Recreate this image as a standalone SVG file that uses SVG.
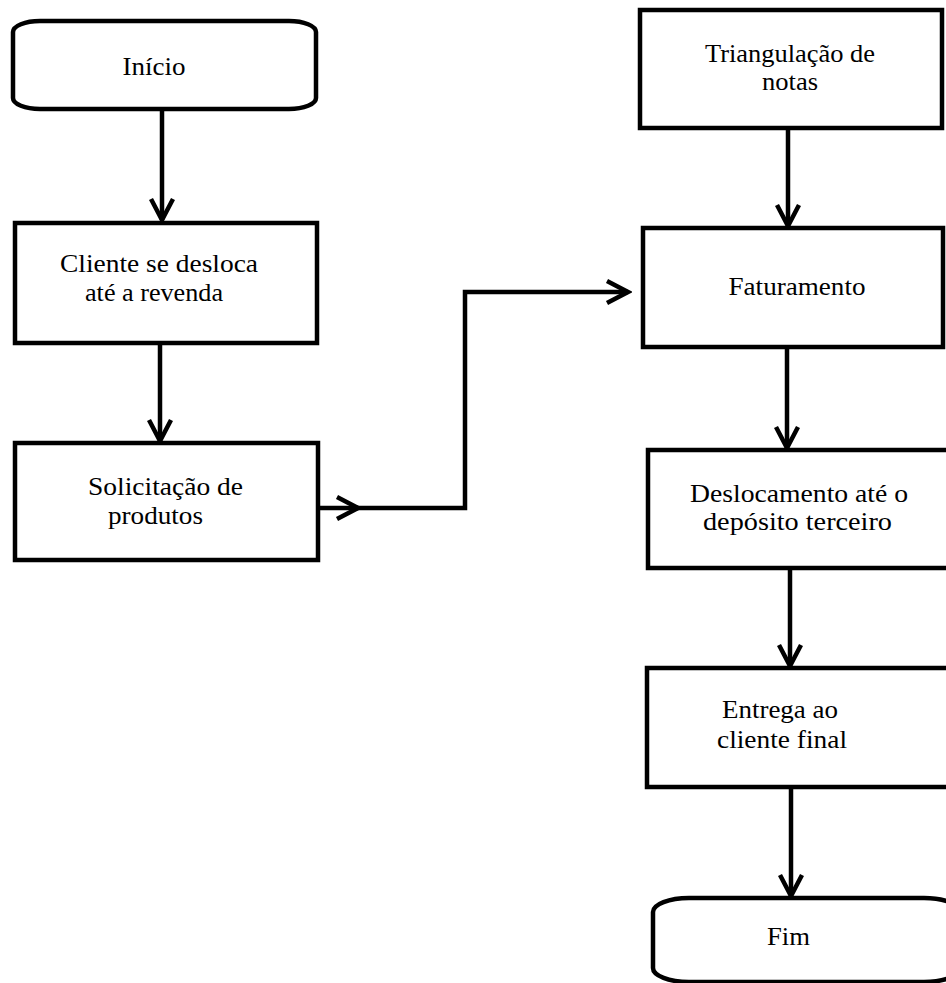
<svg xmlns="http://www.w3.org/2000/svg" width="946" height="983" viewBox="0 0 946 983">
<style>
.box{fill:#fff;stroke:#000;stroke-width:4.5}
.lbl{font-family:"Liberation Serif","Times New Roman",serif;font-size:26px;fill:#000;text-anchor:middle}
.con{fill:none;stroke:#000;stroke-width:4.5}
</style>
<defs>
<marker id="arr" markerUnits="userSpaceOnUse" viewBox="-26 -15 30 30" markerWidth="30" markerHeight="30" refX="0" refY="0" orient="auto">
<path d="M-21,-11 L0,0 L-21,11" fill="none" stroke="#000" stroke-width="4.5"/>
</marker>
</defs>
<rect width="946" height="983" fill="#fff"/>
<g id="connectors">
<path class="con" d="M162,110 V220" marker-end="url(#arr)"/>
<path class="con" d="M160,344 V441" marker-end="url(#arr)"/>
<path class="con" d="M318,508 H358" marker-end="url(#arr)"/>
<path class="con" d="M356,508 H465 V292 H628" marker-end="url(#arr)"/>
<path class="con" d="M788,128 V226" marker-end="url(#arr)"/>
<path class="con" d="M787,347 V448" marker-end="url(#arr)"/>
<path class="con" d="M790,568 V666" marker-end="url(#arr)"/>
<path class="con" d="M791,787 V896" marker-end="url(#arr)"/>
</g>
<g id="inicio">
<path class="box" d="M40,21 H289 A27,11 0 0 1 316,32 V98 A27,11 0 0 1 289,109 H40 A27,11 0 0 1 13,98 V32 A27,11 0 0 1 40,21 Z"/>
<text class="lbl" x="154" y="75" textLength="63" lengthAdjust="spacingAndGlyphs">Início</text>
</g>
<g id="cliente">
<rect class="box" x="15" y="223" width="302" height="120"/>
<text class="lbl" x="159" y="272" textLength="198" lengthAdjust="spacingAndGlyphs">Cliente se desloca</text>
<text class="lbl" x="154" y="301" textLength="138" lengthAdjust="spacingAndGlyphs">até a revenda</text>
</g>
<g id="solicitacao">
<rect class="box" x="15" y="443" width="303" height="117"/>
<text class="lbl" x="165.5" y="495" textLength="155" lengthAdjust="spacingAndGlyphs">Solicitação de</text>
<text class="lbl" x="155.5" y="524" textLength="95" lengthAdjust="spacingAndGlyphs">produtos</text>
</g>
<g id="triangulacao">
<rect class="box" x="640" y="10" width="302" height="118"/>
<text class="lbl" x="790" y="62" textLength="170" lengthAdjust="spacingAndGlyphs">Triangulação de</text>
<text class="lbl" x="790" y="90" textLength="56" lengthAdjust="spacingAndGlyphs">notas</text>
</g>
<g id="faturamento">
<rect class="box" x="643" y="228" width="300" height="119"/>
<text class="lbl" x="797" y="295" textLength="137" lengthAdjust="spacingAndGlyphs">Faturamento</text>
</g>
<g id="deslocamento">
<rect class="box" x="648" y="450" width="310" height="118"/>
<text class="lbl" x="799" y="502" textLength="218" lengthAdjust="spacingAndGlyphs">Deslocamento até o</text>
<text class="lbl" x="797.5" y="530" textLength="189" lengthAdjust="spacingAndGlyphs">depósito terceiro</text>
</g>
<g id="entrega">
<rect class="box" x="647" y="668" width="310" height="119"/>
<text class="lbl" x="780" y="718" textLength="116" lengthAdjust="spacingAndGlyphs">Entrega ao</text>
<text class="lbl" x="782" y="748" textLength="130" lengthAdjust="spacingAndGlyphs">cliente final</text>
</g>
<g id="fim">
<path class="box" d="M689,898 H924 A36,14 0 0 1 960,912 V968 A36,14 0 0 1 924,982 H689 A36,14 0 0 1 653,968 V912 A36,14 0 0 1 689,898 Z"/>
<text class="lbl" x="788.5" y="945" textLength="43" lengthAdjust="spacingAndGlyphs">Fim</text>
</g>
</svg>
